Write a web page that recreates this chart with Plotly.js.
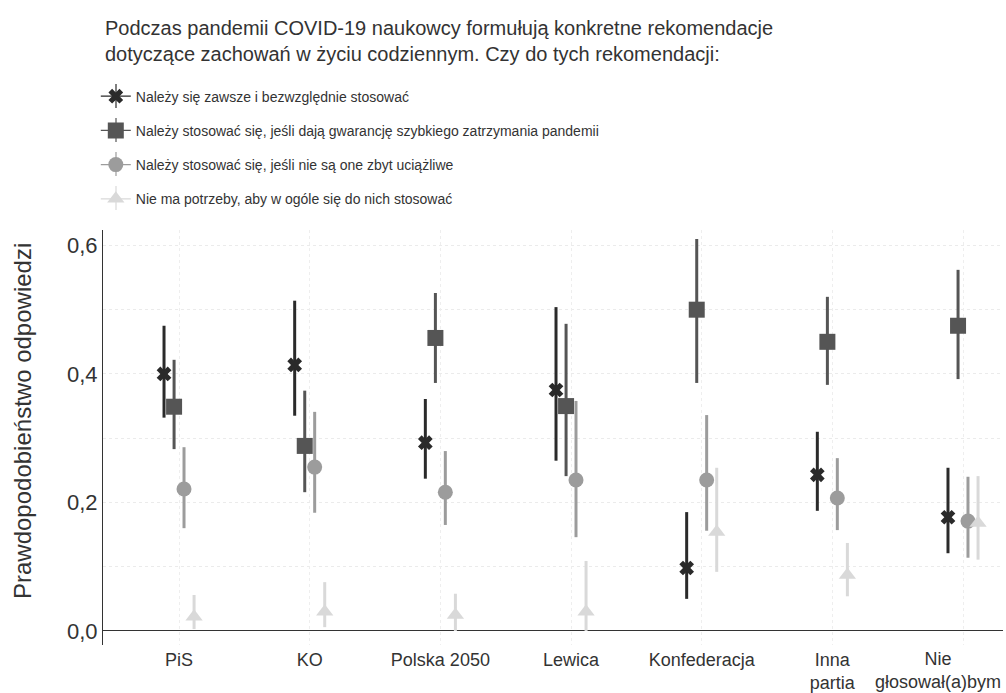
<!DOCTYPE html>
<html>
<head>
<meta charset="utf-8">
<script src="https://cdn.plot.ly/plotly-3.0.1.min.js"></script>
<style>html,body{margin:0;padding:0;background:#fff;}#chart{width:1006px;height:693px;}</style>
</head>
<body>
<div id="chart"></div>
<script>
// ---- data ----
const categories = ["PiS", "KO", "Polska 2050", "Lewica", "Konfederacja", "Inna<br>partia", "Nie<br>głosował(a)bym"];
const seriesNames = [
  "Należy się zawsze i bezwzględnie stosować",
  "Należy stosować się, jeśli dają gwarancję szybkiego zatrzymania pandemii",
  "Należy stosować się, jeśli nie są one zbyt uciążliwe",
  "Nie ma potrzeby, aby w ogóle się do nich stosować"
];
const zawsze      = [0.400, 0.414, 0.293, 0.375, 0.098, 0.243, 0.177];
const zawszeHi    = [0.475, 0.514, 0.361, 0.504, 0.185, 0.310, 0.254];
const zawszeLo    = [0.332, 0.335, 0.237, 0.265, 0.050, 0.187, 0.121];
const gwarancja   = [0.349, 0.288, 0.456, 0.350, 0.500, 0.450, 0.475];
const gwarancjaHi = [0.422, 0.374, 0.526, 0.478, 0.610, 0.520, 0.562];
const gwarancjaLo = [0.283, 0.216, 0.386, 0.241, 0.386, 0.383, 0.392];
const uciazliwe   = [0.221, 0.255, 0.216, 0.235, 0.235, 0.207, 0.171];
const uciazliweHi = [0.286, 0.341, 0.280, 0.358, 0.336, 0.269, 0.240];
const uciazliweLo = [0.160, 0.184, 0.165, 0.146, 0.156, 0.157, 0.114];
const brak        = [0.022, 0.030, 0.025, 0.030, 0.154, 0.087, 0.168];
const brakHi      = [0.056, 0.076, 0.058, 0.109, 0.254, 0.137, 0.241];
const brakLo      = [0.003, 0.006, 0.000, 0.000, 0.092, 0.054, 0.111];
const yTicks = [0, 0.2, 0.4, 0.6];
const yTitle = "Prawdopodobieństwo odpowiedzi";

// ---- styles ----
const FONT = "Liberation Sans, Arial, Helvetica, sans-serif";
const styles = [
  {color: "#2a2a2a", symbol: "x", size: 13},
  {color: "#555555", symbol: "square", size: 16},
  {color: "#9c9c9c", symbol: "circle", size: 15},
  {color: "#d9d9d9", symbol: "triangle-up", size: 15}
];
const offsets = [-0.115, -0.038, 0.038, 0.115];
const series = [
  [zawsze, zawszeHi, zawszeLo],
  [gwarancja, gwarancjaHi, gwarancjaLo],
  [uciazliwe, uciazliweHi, uciazliweLo],
  [brak, brakHi, brakLo]
];
const lastIdx = categories.length - 1;
// the last label is drawn as an annotation shifted left (as in the reference) so it fits
const tickText = categories.map((c, i) => (i === lastIdx ? "" : c));

const traces = [];
series.forEach((s, k) => {
  const [v, hi, lo] = s;
  traces.push({
    type: "scatter", mode: "markers", showlegend: false,
    x: v.map((_, i) => i + offsets[k]), y: v,
    marker: {color: styles[k].color, symbol: styles[k].symbol, size: styles[k].size, line: {width: 0}},
    error_y: {type: "data", symmetric: false,
      array: v.map((val, i) => hi[i] - val),
      arrayminus: v.map((val, i) => val - lo[i]),
      color: styles[k].color, thickness: 3, width: 0},
    hoverinfo: "skip"
  });
});
// legend entries
series.forEach((s, k) => {
  traces.push({
    type: "scatter", mode: "lines+markers", name: seriesNames[k],
    legendgroup: "g" + k,
    x: [null], y: [null],
    line: {color: styles[k].color, width: 1.2},
    marker: {color: styles[k].color, symbol: styles[k].symbol, size: styles[k].size}
  });
});

// small vertical strokes through the legend keys (decoration, paper coords)
const PLOT_T = 230, PLOT_H = 415, PLOT_L = 103, PLOT_W = 900;
const legendRows = [96, 130, 164, 198];
const legendShapes = legendRows.map((py, k) => ({
  type: "line", xref: "paper", yref: "paper", layer: "below",
  x0: (116 - PLOT_L) / PLOT_W, x1: (116 - PLOT_L) / PLOT_W,
  y0: (PLOT_T + PLOT_H - (py - 12)) / PLOT_H, y1: (PLOT_T + PLOT_H - (py + 12)) / PLOT_H,
  line: {color: styles[k].color, width: 1.2}
}));

const layout = {
  width: 1006, height: 693,
  paper_bgcolor: "#ffffff", plot_bgcolor: "#ffffff",
  separators: ",.",
  font: {family: FONT, color: "#333333"},
  margin: {l: 103, r: 3, t: 230, b: 48, pad: 0},
  title: {
    text: "Podczas pandemii COVID-19 naukowcy formułują konkretne rekomendacje<br>dotyczące zachowań w życiu codziennym. Czy do tych rekomendacji:",
    x: 105 / 1006, xref: "container", xanchor: "left",
    y: 1 - 35 / 693, yref: "container", yanchor: "top",
    font: {size: 20, color: "#333333", family: FONT}
  },
  showlegend: true,
  legend: {
    x: -0.008, xanchor: "left", y: 1.36, yanchor: "top",
    orientation: "v", font: {size: 14, color: "#333333", family: FONT},
    tracegroupgap: 13, bgcolor: "rgba(0,0,0,0)", itemwidth: 30
  },
  shapes: legendShapes,
  annotations: [{
    text: yTitle, textangle: -90, showarrow: false,
    xref: "paper", yref: "paper",
    x: (22 - PLOT_L) / PLOT_W, xanchor: "center",
    y: (PLOT_T + PLOT_H - 421) / PLOT_H, yanchor: "middle",
    font: {size: 24, color: "#333333", family: FONT}
  }, {
    text: categories[lastIdx], showarrow: false,
    xref: "x", yref: "paper", x: lastIdx, xanchor: "center", xshift: -25,
    y: 0, yanchor: "top", yshift: -3, borderpad: 0,
    font: {size: 18, color: "#333333", family: FONT}
  }],
  xaxis: {
    range: [-0.582, 6.306],
    tickmode: "array", tickvals: categories.map((_, i) => i), ticktext: tickText,
    showgrid: true, gridcolor: "#eeeeee", gridwidth: 1, griddash: "dot",
    zeroline: false, showline: false, ticks: "",
    ticklabelstandoff: 2,
    tickfont: {size: 18, color: "#333333", family: FONT}
  },
  yaxis: {
    range: [-0.0218, 0.624],
    tickmode: "array", tickvals: yTicks, tickformat: ".1f",
    showgrid: true, gridcolor: "#ebebeb", gridwidth: 1, griddash: "dot",
    minor: {dtick: 0.1, tick0: 0, showgrid: true, gridcolor: "#ebebeb", griddash: "dot", gridwidth: 1, ticks: ""},
    zeroline: true, zerolinecolor: "#333333", zerolinewidth: 1,
    showline: true, linecolor: "#333333", linewidth: 1, ticks: "",
    tickfont: {size: 22, color: "#333333", family: FONT}
  }
};

Plotly.newPlot("chart", traces, layout, {displayModeBar: false, staticPlot: true});
</script>
</body>
</html>
